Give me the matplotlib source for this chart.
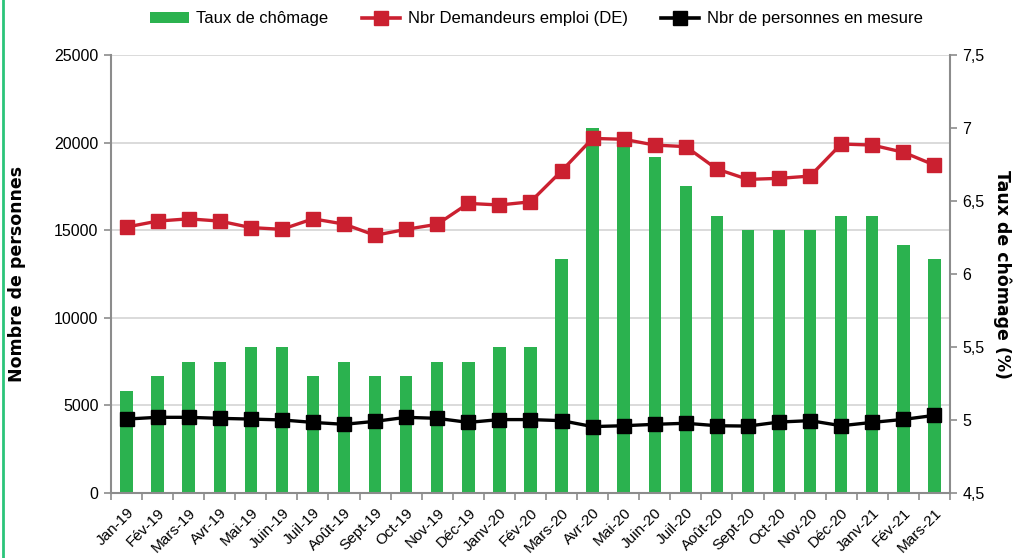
import matplotlib
matplotlib.use("Agg")
import matplotlib.pyplot as plt
from matplotlib.lines import Line2D
from matplotlib.patches import Patch
from matplotlib.transforms import blended_transform_factory

plt.rcParams['font.family'] = ['Liberation Sans', 'DejaVu Sans']

months = ["Jan-19", "Fév-19", "Mars-19", "Avr-19", "Mai-19", "Juin-19", "Juil-19",
          "Août-19", "Sept-19", "Oct-19", "Nov-19", "Déc-19", "Janv-20", "Fév-20",
          "Mars-20", "Avr-20", "Mai-20", "Juin-20", "Juil-20", "Août-20", "Sept-20",
          "Oct-20", "Nov-20", "Déc-20", "Janv-21", "Fév-21", "Mars-21"]

taux_chomage = [5.2, 5.3, 5.4, 5.4, 5.5, 5.5, 5.3, 5.4, 5.3, 5.3, 5.4, 5.4, 5.5, 5.5,
                6.1, 7.0, 6.9, 6.8, 6.6, 6.4, 6.3, 6.3, 6.3, 6.4, 6.4, 6.2, 6.1]

demandeurs_emploi = [15180, 15520, 15650, 15520, 15150, 15050, 15650, 15350, 14710,
                     15050, 15340, 16530, 16440, 16620, 18380, 20240, 20190, 19860,
                     19770, 18490, 17900, 17960, 18090, 19920, 19860, 19450, 18720]

personnes_mesure = [4220, 4320, 4320, 4260, 4220, 4170, 4030, 3920, 4090, 4320, 4260,
                    4030, 4190, 4190, 4130, 3790, 3840, 3920, 3980, 3840, 3820, 4050,
                    4130, 3840, 4030, 4200, 4430]

left_ticks = [0, 5000, 10000, 15000, 20000, 25000]
right_ticks = [4.5, 5, 5.5, 6, 6.5, 7, 7.5]

GREEN = "#2bb24f"
RED = "#cb2030"
BLACK = "#000000"
GREY = "#8c8c8c"
GRID = "#d4d4d4"

fig = plt.figure(figsize=(10.22, 5.58), dpi=100)
ax = fig.add_axes([0.1086, 0.1165, 0.8209, 0.7849])
ax2 = ax.twinx()
ax.set_zorder(ax2.get_zorder() + 1)
ax.patch.set_visible(False)

x = list(range(len(months)))

# gridlines at left-axis ticks, behind the bars
tr = blended_transform_factory(ax2.transAxes, ax.transData)
for v in left_ticks[1:]:
    ax2.plot([0, 1], [v, v], transform=tr, color=GRID, lw=1.2, zorder=0)

ax2.bar(x, taux_chomage, width=0.4, color=GREEN, zorder=2, bottom=0)
ax2.set_ylim(4.5, 7.5)
ax2.set_yticks(right_ticks)
ax2.set_yticklabels([("%g" % v).replace(".", ",") for v in right_ticks])

ax.plot(x, demandeurs_emploi, color=RED, lw=2.4, marker="s", markersize=10.5, zorder=3)
ax.plot(x, personnes_mesure, color=BLACK, lw=2.4, marker="s", markersize=10.5, zorder=3)
ax.set_ylim(0, 25000)
ax.set_yticks(left_ticks)
ax.set_yticklabels([str(v) for v in left_ticks])
ax.set_xlim(-0.5, len(months) - 0.5)

ax.set_xticks(x)
ax.set_xticklabels(months, rotation=45, ha="right", rotation_mode="anchor")
ax.set_xticks([i - 0.5 for i in range(len(months) + 1)], minor=True)

for a in (ax, ax2):
    for s in a.spines.values():
        s.set_visible(False)
    a.tick_params(labelsize=11.5, colors="#000000")
ax.spines["left"].set_visible(True)
ax.spines["left"].set_color(GREY)
ax.spines["left"].set_linewidth(1.5)
ax.spines["bottom"].set_visible(True)
ax.spines["bottom"].set_color(GREY)
ax.spines["bottom"].set_linewidth(1.5)
ax2.spines["right"].set_visible(True)
ax2.spines["right"].set_color(GREY)
ax2.spines["right"].set_linewidth(1.5)
ax.tick_params(axis="y", length=5, color=GREY, width=1.2, pad=4)
ax2.tick_params(axis="y", length=5, color=GREY, width=1.2, pad=4)
ax.tick_params(axis="x", which="major", length=0, pad=9, labelsize=11)
ax.tick_params(axis="x", which="minor", length=5, color=GREY, width=1.2)

ax.set_ylabel("Nombre de personnes", fontsize=12.5, fontweight="bold",
              family="DejaVu Sans", labelpad=20)
ax2.set_ylabel("Taux de chômage (%)", fontsize=12.5, fontweight="bold",
               family="DejaVu Sans", rotation=-90, labelpad=19)

handles = [Patch(facecolor=GREEN, edgecolor="none"),
           Line2D([0], [0], color=RED, lw=2.6, marker="s", markersize=10.5),
           Line2D([0], [0], color=BLACK, lw=2.6, marker="s", markersize=10.5)]
labels = ["Taux de chômage", "Nbr Demandeurs emploi (DE)", "Nbr de personnes en mesure"]
fig.legend(handles, labels, loc="center", bbox_to_anchor=(0.525, 0.966), ncol=3,
           frameon=False, fontsize=12, handlelength=2.3, columnspacing=2.0,
           handletextpad=0.45)

fig.add_artist(Line2D([0.003, 0.003], [0, 1], color="#2bc47a", lw=2,
                      transform=fig.transFigure))

fig.savefig("out.png", dpi=100)
